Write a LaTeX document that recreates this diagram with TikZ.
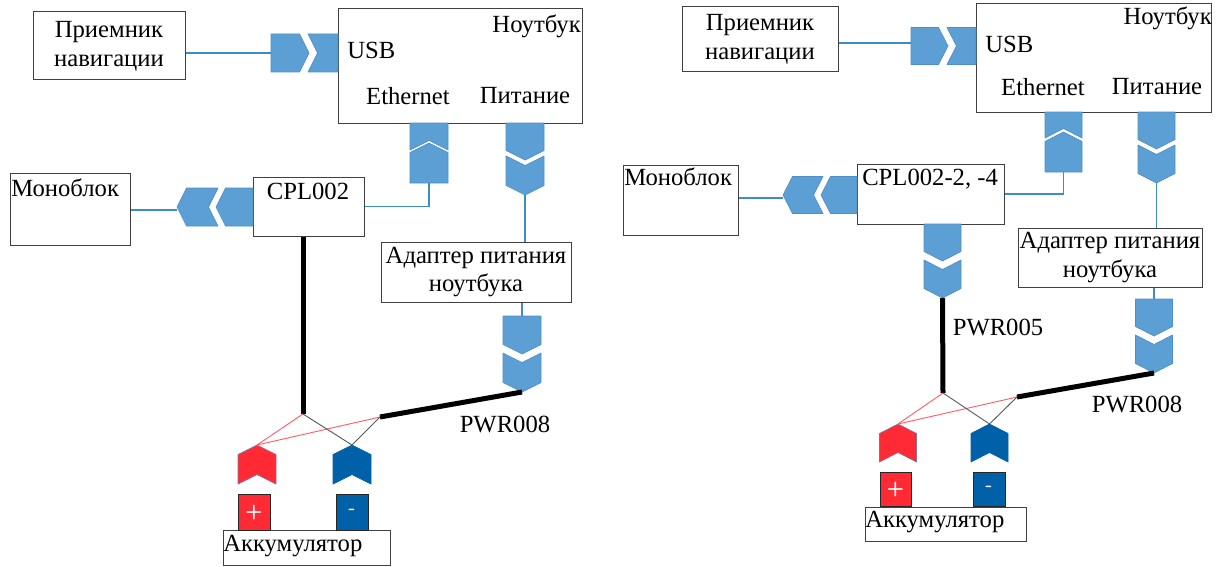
\documentclass[tikz,border=0pt]{standalone}
\usepackage{fontspec}
\setmainfont{Liberation Serif}
\usetikzlibrary{positioning,calc}
\definecolor{connblue}{HTML}{5B9FD4}
\definecolor{connedge}{HTML}{4F8FC8}
\definecolor{wireblue}{HTML}{3E8CC6}
\definecolor{plusred}{HTML}{FF2A33}
\definecolor{minusblue}{HTML}{0060A8}
\newcommand{\connw}{19}
\begin{document}
\begin{tikzpicture}[
      x=0.75pt,
      y=-0.75pt,
      box/.style={
        rectangle,
        draw=black!75,
        fill=white,
        line width=0.75pt,
        inner sep=0pt,
        align=center,
        font=\fontsize{18.5}{21.5}\selectfont
      },
      label/.style={inner sep=0pt,font=\fontsize{18.5}{21.5}\selectfont},
      conn/.style={draw=connedge,fill=connblue,line width=0.5pt,line join=round},
      redconn/.style={conn/.append style={fill=plusred,draw=connedge!70!plusred}},
      blueconn/.style={conn/.append style={fill=minusblue,draw=minusblue}},
      pics/plug/.style={code={
        \draw[conn] (0,-\connw) -- ({#1-9.5},-\connw) -- (#1,0) -- ({#1-9.5},\connw) -- (0,\connw) -- cycle;
        \coordinate (-tail) at (0,0);
        \coordinate (-tip) at (#1,0);
      }},
      pics/sock/.style={code={
        \draw[conn] (0,-\connw) -- (#1,-\connw) -- (#1,\connw) -- (0,\connw) -- (9.5,0) -- cycle;
        \coordinate (-tail) at (0,0);
        \coordinate (-tip) at (#1,0);
      }},
      pics/chev/.style={code={
        \draw[conn] (0,-\connw) -- ({#1-9.5},-\connw) -- (#1,0) -- ({#1-9.5},\connw) -- (0,\connw) -- (9.5,0) -- cycle;
        \coordinate (-tail) at (0,0);
        \coordinate (-tip) at (#1,0);
      }},
      pole/.style={box,draw=black!85,text=white,font=\fontsize{15}{15}\sffamily\bfseries},
      wire/.style={draw=wireblue,line width=0.9pt},
      cable/.style={line width=3.75pt,draw=black},
      redwire/.style={draw=plusred!75,line width=0.7pt},
      graywire/.style={draw=black!65,line width=0.7pt}
    ]
    \useasboundingbox (0,0) rectangle (1224,567);

    % Left scheme: boxes
    \node[box,minimum width=114pt,minimum height=51pt] (lrecv) at (109,46) {Приемник\\навигации};
    \node[box,minimum width=183pt,minimum height=85.5pt] (lnote) at (460,66) {};
    \node[box,minimum width=83.25pt,minimum height=44.25pt] (lcpl) at (308.5,206.5) {};
    \node[box,minimum width=90pt,minimum height=54pt] (lmono) at (70,209) {};
    \node[box,minimum width=142.5pt,minimum height=45pt] (ladapt) at (476,272) {Адаптер питания\\ноутбука};
    \node[box,minimum width=125.25pt,minimum height=26.25pt] (lbatt) at (306.5,548) {};
    \node[pole,fill=plusred,minimum width=24pt,minimum height=27pt] (lplus) at (254,512) {+};
    \node[pole,fill=minusblue,minimum width=24pt,minimum height=27pt] (lminus) at (352,512) {-};

    % Left scheme: texts
    \node[label,anchor=east] (lnotetxt) at (581,26) {Ноутбук};
    \node[label,anchor=west] (lusbtxt) at (347,50) {USB};
    \node[label] (lethtxt) at (408,96) {Ethernet};
    \node[label] (lpwrtxt) at (525,96) {Питание};
    \node[label] (lcpltxt) at (308,191) {CPL002};
    \node[label,anchor=west] (lmonotxt) at (11,188) {Моноблок};
    \node[label,anchor=west] (lbatttxt) at (223,546) {Аккумулятор};
    \node[label] (lpwr8) at (505,424) {PWR008};

    % Left scheme: connectors
    \pic (lusba) at (271,53) {plug=38};
    \pic (lusbb) at (308,53) {sock=30};
    \pic[rotate=90] (lethb) at (429,150) {sock=27};
    \pic[rotate=90] (letha) at (429,183) {plug=40};
    \pic[rotate=-90] (lpwra) at (525,123) {plug=37};
    \pic[rotate=-90] (lpwrb) at (525,156) {chev=39};
    \pic[rotate=180] (lmonob) at (253,207) {plug=37};
    \pic[rotate=180] (lmonoa) at (218,207) {chev=41};
    \pic[rotate=-90] (ladpa) at (522,316) {plug=38};
    \pic[rotate=-90] (ladpb) at (522,353) {chev=39};
    \pic[rotate=90,redconn] (lredc) at (257,484) {chev=39};
    \pic[rotate=90,blueconn] (lbluc) at (352,484) {chev=39};

    \coordinate (lfork) at (303,414);
    \coordinate (ljoin) at (380,417);

    \draw[wire] (lrecv.east|-lusba-tail) -- (lusba-tail);
    \draw[wire] (lmono.east|-0,210) -- (lmonoa-tip|-0,210);
    \draw[wire] (lcpl.east) -| (letha-tail);
    \draw[wire] (lpwrb-tip) -- (ladapt.north-|lpwrb-tip);
    \draw[wire] (ladapt.south-|ladpa-tail) -- (ladpa-tail);
    \draw[cable] (lcpl.south-|lfork) -- (lfork);
    \draw[cable] (ladpb-tip) -- (ljoin);
    \draw[redwire] (lfork) -- (lredc-tip);
    \draw[redwire] (ljoin) -- (lredc-tip);
    \draw[graywire] (lfork) -- (lbluc-tip);
    \draw[graywire] (ljoin) -- (lbluc-tip);

    % Right scheme: boxes
    \node[box,minimum width=117pt,minimum height=48.75pt] (rrecv) at (760,39.5) {Приемник\\навигации};
    \node[box,minimum width=176.25pt,minimum height=81pt] (rnote) at (1093.5,58) {};
    \node[box,minimum width=110.25pt,minimum height=45pt] (rcpl) at (930.5,194) {};
    \node[box,minimum width=86.25pt,minimum height=52.5pt] (rmono) at (680.5,200) {};
    \node[box,minimum width=138pt,minimum height=44.25pt] (radapt) at (1110,257.5) {Адаптер питания\\ноутбука};
    \node[box,minimum width=120.75pt,minimum height=25.5pt] (rbatt) at (945.5,524) {};
    \node[pole,fill=plusred,minimum width=23.25pt,minimum height=25.5pt] (rplus) at (895.5,489) {+};
    \node[pole,fill=minusblue,minimum width=24pt,minimum height=25.5pt] (rminus) at (989,489) {-};

    % Right scheme: texts
    \node[label,anchor=east] (rnotetxt) at (1212,18) {Ноутбук};
    \node[label,anchor=west] (rusbtxt) at (985,44) {USB};
    \node[label] (rethtxt) at (1043,87) {Ethernet};
    \node[label] (rpwrtxt) at (1157,87) {Питание};
    \node[label,anchor=west] (rcpltxt) at (862,179) {CPL002-2, -4};
    \node[label,anchor=west] (rmonotxt) at (624,177) {Моноблок};
    \node[label,anchor=west] (rbatttxt) at (865,522) {Аккумулятор};
    \node[label] (rpwr5) at (998,327) {PWR005};
    \node[label] (rpwr8) at (1137,404) {PWR008};

    % Right scheme: connectors
    \renewcommand{\connw}{18.5}
    \pic (rusba) at (911,46) {plug=37};
    \pic (rusbb) at (947,46) {sock=29};
    \pic[rotate=90] (rethb) at (1063.5,138) {sock=26};
    \pic[rotate=90] (retha) at (1063.5,172) {plug=40};
    \pic[rotate=-90] (rpwra) at (1156.5,112) {plug=37};
    \pic[rotate=-90] (rpwrb) at (1156.5,145) {chev=38};
    \pic[rotate=180] (rmonob) at (857,195) {plug=36};
    \pic[rotate=180] (rmonoa) at (823,195) {chev=40};
    \pic[rotate=-90] (rcpla) at (942.5,224) {plug=37};
    \pic[rotate=-90] (rcplb) at (942.5,260) {chev=38};
    \pic[rotate=-90] (radpa) at (1154,299) {plug=37};
    \pic[rotate=-90] (radpb) at (1154,335) {chev=38};
    \pic[rotate=90,redconn] (rredc) at (898,462) {chev=38};
    \pic[rotate=90,blueconn] (rbluc) at (989.5,462) {chev=38};

    \coordinate (rfork) at (943,393);
    \coordinate (rjoin) at (1017,397);

    \draw[wire] (rrecv.east|-0,43) -- (rusba-tail|-0,43);
    \draw[wire] (rmono.east|-0,198) -- (rmonoa-tip|-0,198);
    \draw[wire] (rcpl.east) -| (retha-tail);
    \draw[wire] (rpwrb-tip) -- (radapt.north-|rpwrb-tip);
    \draw[wire] (radapt.south-|radpa-tail) -- (radpa-tail);
    \draw[cable] (rcplb-tip) -- (rfork);
    \draw[cable] (radpb-tip) -- (rjoin);
    \draw[redwire] (rfork) -- (rredc-tip);
    \draw[redwire] (rjoin) -- (rredc-tip);
    \draw[graywire] (rfork) -- (rbluc-tip);
    \draw[graywire] (rjoin) -- (rbluc-tip);
\end{tikzpicture}
\end{document}
